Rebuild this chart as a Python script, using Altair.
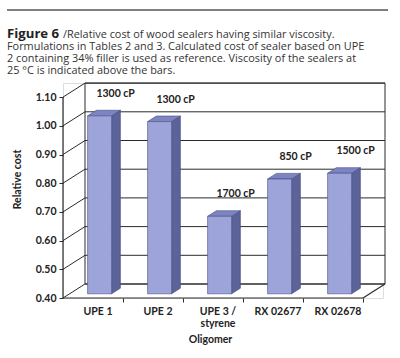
import altair as alt
import pandas as pd

# ---- data ----
categories = ["UPE 1", "UPE 2", "UPE 3 / styrene", "RX 02677", "RX 02678"]
relative_cost = [1.02, 1.00, 0.67, 0.80, 0.82]
viscosity_labels = ["1300 cP", "1300 cP", "1700 cP", "850 cP", "1500 cP"]
y_ticks = [0.40, 0.50, 0.60, 0.70, 0.80, 0.90, 1.00, 1.10]
caption_lines = [
    "Formulations in Tables 2 and 3. Calculated cost of sealer based on UPE",
    "2 containing 34% filler is used as reference. Viscosity of the sealers at",
    "25 \u00b0C is indicated above the bars.",
]
caption_bold = "Figure 6"
caption_first = "/Relative cost of wood sealers having similar viscosity."

# ---- styling / geometry constants (3-D look) ----
W, H = 320, 215
Y0, YMAX = 0.40, 1.10
X_DOM = [0, 5.3333]
Y_DOM = [0.40, 1.14913]
DX, DY = 0.3667, 0.04878      # full depth of the box in data units
F0, BD = 0.30, 0.40           # bar front depth fraction, bar depth fraction
BW = 0.40                     # bar width in category units
FONT = "Lato"
CAP_FONT = "Open Sans"
LINE = "#2b2b2b"
FRONT, SIDE, TOP, EDGE = "#9da4da", "#5c6399", "#7c84c2", "#464c80"

xs = alt.Scale(domain=X_DOM, nice=False, zero=False)
ys = alt.Scale(domain=Y_DOM, nice=False, zero=False)

label_expr = " : ".join(
    [f"datum.value == {i+1} ? " + (
        "['UPE 3 /', 'styrene']" if c == "UPE 3 / styrene" else f"'{c}'")
     for i, c in enumerate(categories)]) + " : ''"

x_axis = alt.Axis(values=[1, 2, 3, 4, 5], labelExpr=label_expr, labelOffset=-25.5,
                  tickSize=4, tickColor=LINE, domain=False, grid=False,
                  labelFont=FONT, labelFontWeight="bold", labelFontSize=10.5,
                  labelColor="#222", labelPadding=4, labelLineHeight=12,
                  title="Oligomer", titleFont=FONT, titleFontWeight="bold",
                  titleFontSize=10.5, titleColor="#222", titleX=147, titleY=44,
                  titleBaseline="alphabetic")
y_axis = alt.Axis(values=y_ticks, format=".2f", tickSize=4, tickColor=LINE,
                  domain=False, grid=False, labelFont=FONT, labelFontWeight="bold",
                  labelFontSize=10.5, labelColor="#222", labelPadding=3,
                  title="Relative cost", titleFont=FONT, titleFontWeight="bold",
                  titleFontSize=10.5, titleColor="#222", titleX=-46, titleY=96,
                  titleAngle=270, titleAlign="center", titleBaseline="middle")


def X(f):
    return alt.X(f, scale=xs, axis=x_axis)


def Y(f):
    return alt.Y(f, scale=ys, axis=y_axis)


# ---- box (walls, floor, grid) ----
wall = pd.DataFrame({"x": [DX], "x2": [5 + DX], "y": [Y0 + DY], "y2": [YMAX + DY]})
grid = pd.DataFrame({"t": y_ticks})
grid["x"] = DX
grid["x2"] = 5 + DX
grid["yb"] = grid["t"] + DY
grid["x0"] = 0.0

back = alt.Chart(wall).mark_rect(fill="white", stroke=LINE, strokeWidth=1).encode(
    x=X("x:Q"), x2="x2:Q", y=Y("y:Q"), y2="y2:Q")
back_grid = alt.Chart(grid).mark_rule(color=LINE, strokeWidth=1).encode(
    x=X("x:Q"), x2="x2:Q", y=Y("yb:Q"))
side_grid = alt.Chart(grid).mark_rule(color=LINE, strokeWidth=1).encode(
    x=X("x0:Q"), x2="x:Q", y=Y("t:Q"), y2="yb:Q")
edges = pd.DataFrame({
    "x": [0, 0, 5], "x2": [0, 5, 5 + DX],
    "y": [Y0, Y0, Y0], "y2": [YMAX, Y0, Y0 + DY]})
axis_lines = alt.Chart(edges).mark_rule(color=LINE, strokeWidth=1.2).encode(
    x=X("x:Q"), x2="x2:Q", y=Y("y:Q"), y2="y2:Q")

# ---- bars ----
rows, side_rows, top_rows = [], [], []
for i, (c, v, lab) in enumerate(zip(categories, relative_cost, viscosity_labels)):
    xc = i + 0.5 + F0 * DX
    x1, x2 = xc - BW / 2, xc + BW / 2
    yb, yt = Y0 + F0 * DY, v + F0 * DY
    rows.append({"cat": c, "xc": xc, "x1": x1, "x2": x2, "yb": yb, "yt": yt, "lab": lab})
    side_rows += [{"cat": c, "x": x2, "lo": yb, "hi": yt},
                  {"cat": c, "x": x2 + BD * DX, "lo": yb + BD * DY, "hi": yt + BD * DY}]
    top_rows += [{"cat": c, "y": yt, "xl": x1, "xr": x2},
                 {"cat": c, "y": yt + BD * DY, "xl": x1 + BD * DX, "xr": x2 + BD * DX}]
bars = pd.DataFrame(rows)
side_df = pd.DataFrame(side_rows)
top_df = pd.DataFrame(top_rows)

side = alt.Chart(side_df).mark_area(orient="vertical", color=SIDE, stroke=EDGE,
                                     strokeWidth=0.6).encode(
    x=X("x:Q"), y=Y("lo:Q"), y2="hi:Q", detail="cat:N")
top = alt.Chart(top_df).mark_area(orient="horizontal", color=TOP, stroke=EDGE,
                                   strokeWidth=0.6).encode(
    y=Y("y:Q"), x=X("xl:Q"), x2="xr:Q", detail="cat:N")
front = alt.Chart(bars).mark_rect(color=FRONT, stroke=EDGE, strokeWidth=0.6).encode(
    x=X("x1:Q"), x2="x2:Q", y=Y("yb:Q"), y2="yt:Q")
labels = alt.Chart(bars).mark_text(font=FONT, fontWeight="bold", fontSize=10.5,
                                   color="#222", dx=16, dy=-22, baseline="middle").encode(
    x=X("xc:Q"), y=Y("yt:Q"), text="lab:N")

# ---- caption ----
one = pd.DataFrame({"a": [0]})
top_rule = alt.Chart(one).mark_rule(color="#555", strokeWidth=1.5).encode(
    x=alt.value(-56), x2=alt.value(325), y=alt.value(-73))
cap_bold = alt.Chart(one).mark_text(
    text=caption_bold, font=CAP_FONT, fontWeight="bold", fontSize=13.2, color="#222",
    align="left", baseline="alphabetic").encode(x=alt.value(-56), y=alt.value(-45))
cap_first = alt.Chart(one).mark_text(
    text=caption_first, font=CAP_FONT, fontSize=10.9, color="#333", align="left",
    baseline="alphabetic").encode(x=alt.value(0), y=alt.value(-45))
cap_rest = alt.Chart(one).mark_text(
    text=caption_lines, font=CAP_FONT, fontSize=10.9, lineHeight=11.8, color="#333",
    align="left", baseline="alphabetic").encode(x=alt.value(-56), y=alt.value(-33))

chart = alt.layer(back, back_grid, side_grid, axis_lines, side, top, front, labels,
                  top_rule, cap_bold, cap_first, cap_rest).properties(
    width=W, height=H,
    autosize=alt.AutoSizeParams(type="none"),
    padding={"left": 63, "top": 83, "right": 17, "bottom": 60},
).configure_view(strokeWidth=0).configure(background="white")

chart.save("out.html", embed_options={"renderer": "svg", "actions": False})
